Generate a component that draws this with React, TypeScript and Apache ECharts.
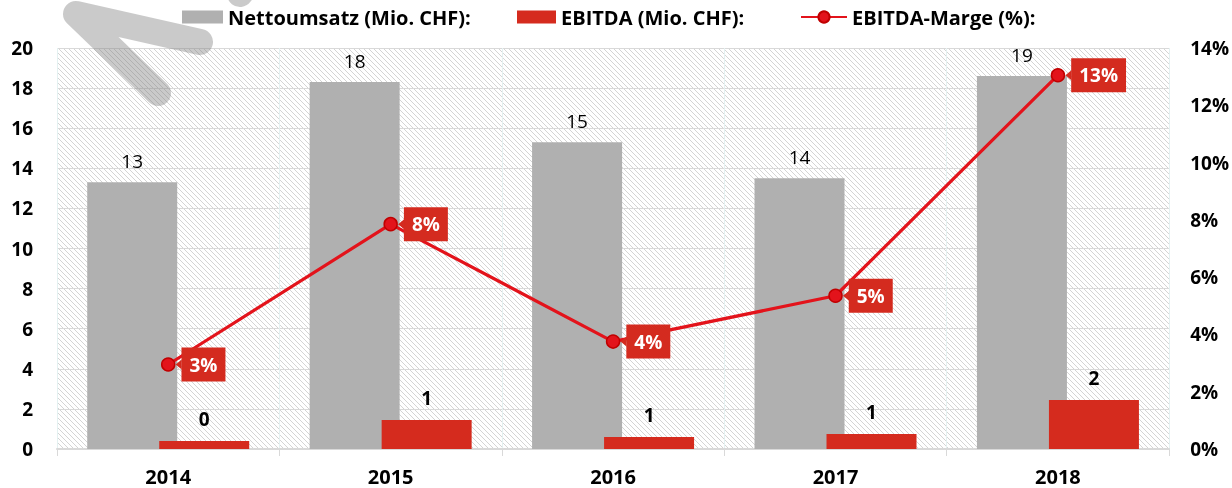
import React, { useEffect, useRef } from "react";
import * as echarts from "echarts";

const years = ["2014", "2015", "2016", "2017", "2018"];
const nettoumsatz = [13.3, 18.3, 15.3, 13.5, 18.6];
const ebitda = [0.4, 1.45, 0.6, 0.75, 2.45];
const marge = [2.95, 7.85, 3.75, 5.35, 13.05];

const seriesNames = ["Nettoumsatz (Mio. CHF):", "EBITDA (Mio. CHF):", "EBITDA-Marge (%):"];

const FONT = "Open Sans";

function makeHatch(): HTMLCanvasElement {
  const s = 5;
  const c = document.createElement("canvas");
  c.width = s;
  c.height = s;
  const ctx = c.getContext("2d")!;
  ctx.fillStyle = "#ffffff";
  ctx.fillRect(0, 0, s, s);
  ctx.strokeStyle = "#d4d4d4";
  ctx.lineWidth = 1;
  for (const o of [-s, 0, s]) {
    ctx.beginPath();
    ctx.moveTo(o, 0);
    ctx.lineTo(o + s, s);
    ctx.stroke();
  }
  return c;
}

export default function App() {
  const ref = useRef<HTMLDivElement>(null);

  useEffect(() => {
    if (!ref.current) return;
    const chart = echarts.init(ref.current, undefined, { renderer: "svg" });
    const hatch = makeHatch();
    const wm = "rgba(128,128,128,0.42)";
    const labelRed = "#d42b1f";
    const legendText = { fontSize: 20, fontWeight: "bold", color: "#000", fontFamily: FONT };
    const legendBase = { top: 7, padding: 0, itemHeight: 13, textStyle: legendText };

    const watermark = [
      {
        type: "polyline",
        z: 100,
        silent: true,
        shape: { points: [[158, 93], [76, 14], [200, 42]] },
        style: { stroke: wm, lineWidth: 26, lineCap: "round", lineJoin: "round", fill: null },
      },
      {
        type: "polyline",
        z: 100,
        silent: true,
        shape: { points: [[240, -6], [275, -50]] },
        style: { stroke: wm, lineWidth: 26, lineCap: "round", lineJoin: "round", fill: null },
      },
    ];

    chart.setOption({
      animation: false,
      textStyle: { fontFamily: FONT },
      legend: [
        { ...legendBase, left: 182, itemWidth: 41, data: [{ name: seriesNames[0], icon: "rect" }] },
        { ...legendBase, left: 517, itemWidth: 39, data: [{ name: seriesNames[1], icon: "rect" }] },
        { ...legendBase, left: 800, itemWidth: 46, itemHeight: 14, data: [{ name: seriesNames[2] }] },
      ],
      grid: {
        left: 57,
        right: 62,
        top: 48,
        bottom: 39,
        show: true,
        borderWidth: 0,
        backgroundColor: { image: hatch, repeat: "repeat" },
      },
      xAxis: {
        type: "category",
        data: years,
        axisLine: { lineStyle: { color: "#d9d9d9", width: 2 } },
        axisTick: { show: true, length: 7, lineStyle: { color: "#d9d9d9", width: 1 } },
        splitLine: { show: true, lineStyle: { color: "#e4f1f1", width: 1 } },
        axisLabel: { fontSize: 20, fontWeight: "bold", color: "#000", margin: 17, fontFamily: FONT },
      },
      yAxis: [
        {
          type: "value",
          min: 0,
          max: 20,
          interval: 2,
          axisLine: { show: false },
          axisTick: { show: false },
          splitLine: { lineStyle: { color: "#d9d9d9", width: 1 } },
          axisLabel: { fontSize: 19, fontWeight: "bold", color: "#000", margin: 24, fontFamily: FONT },
        },
        {
          type: "value",
          min: 0,
          max: 14,
          interval: 2,
          position: "right",
          axisLine: { show: false },
          axisTick: { show: false },
          splitLine: { show: false },
          axisLabel: {
            fontSize: 19,
            fontWeight: "bold",
            color: "#000",
            margin: 21,
            align: "left",
            formatter: "{value}%",
            fontFamily: FONT,
          },
        },
      ],
      series: [
        {
          name: seriesNames[0],
          type: "bar",
          data: nettoumsatz,
          barWidth: 90,
          barGap: "-20%",
          itemStyle: { color: "#b0b0b0" },
          label: {
            show: true,
            position: "top",
            distance: 12,
            fontSize: 19,
            color: "#000",
            fontFamily: FONT,
            formatter: (p: any) => String(Math.round(p.value)),
          },
        },
        {
          name: seriesNames[1],
          type: "bar",
          data: ebitda,
          barWidth: 90,
          barGap: "-20%",
          itemStyle: { color: "#d52b1e" },
          label: {
            show: true,
            position: "top",
            distance: 12,
            fontSize: 19,
            color: "#000",
            fontWeight: "bold",
            fontFamily: FONT,
            formatter: (p: any) => String(Math.round(p.value)),
          },
        },
        {
          name: seriesNames[2],
          type: "line",
          yAxisIndex: 1,
          data: marge,
          z: 5,
          symbol: "circle",
          symbolSize: 13,
          lineStyle: { color: "#e3131b", width: 3.2 },
          itemStyle: { color: "#e3131b", borderColor: "#c00000", borderWidth: 1.5 },
          label: {
            show: true,
            position: "right",
            distance: 6,
            backgroundColor: labelRed,
            color: "#fff",
            fontWeight: "bold",
            fontSize: 19,
            lineHeight: 22,
            padding: [7, 8, 5, 8],
            fontFamily: FONT,
            formatter: (p: any) => Math.round(p.value) + "%",
          },
        },
      ],
      graphic: watermark,
    });

    // small callout pointers on the left side of each percentage label box
    const pointers = marge.map((v, i) => {
      const pt = chart.convertToPixel({ seriesIndex: 2 }, [i, v]) as number[];
      const bx = pt[0] + 6.5 + 6;
      const py = pt[1];
      return {
        type: "polygon",
        z: 10,
        silent: true,
        shape: { points: [[bx + 1, py - 5], [bx - 5, py], [bx + 1, py + 5]] },
        style: { fill: labelRed },
      };
    });
    chart.setOption({ graphic: [...watermark, ...pointers] }, { replaceMerge: ["graphic"] });

    return () => chart.dispose();
  }, []);

  return (
    <div
      ref={ref}
      style={{ position: "fixed", left: 0, top: 0, width: 1232, height: 488 }}
    />
  );
}
